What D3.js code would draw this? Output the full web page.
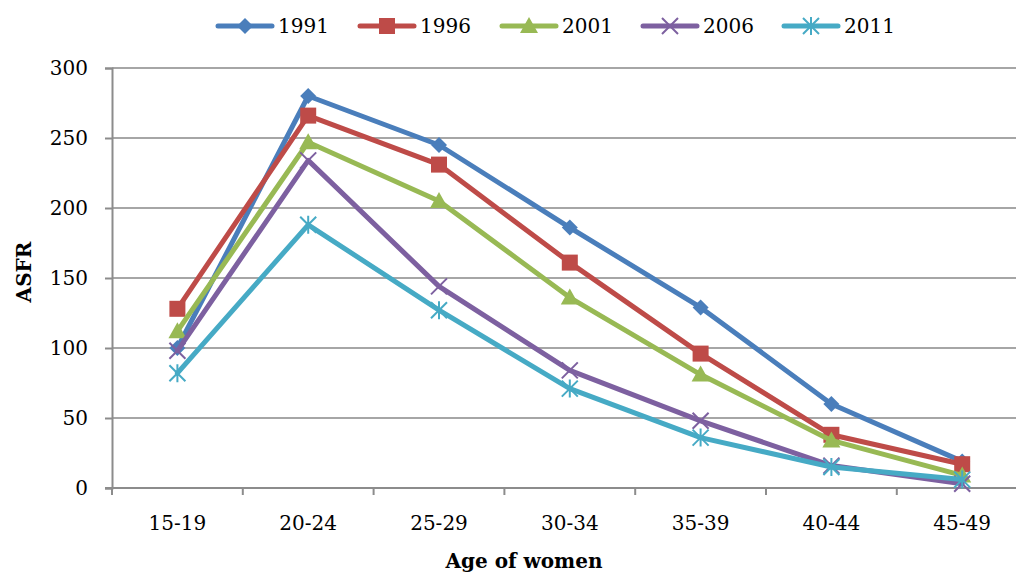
<!DOCTYPE html>
<html><head><meta charset="utf-8">
<script src="https://cdn.jsdelivr.net/npm/d3@7"></script>
<style>body{margin:0;background:#fff}svg{display:block}</style>
</head><body>
<svg id="c" width="1016" height="572"></svg>
<script>
const categories = ["15-19","20-24","25-29","30-34","35-39","40-44","45-49"];
const seriesNames = ["1991","1996","2001","2006","2011"];
const v1991 = [100, 280, 245, 186, 129, 60, 19];
const v1996 = [128, 266, 231, 161, 96, 38, 17];
const v2001 = [112, 247, 205, 136, 81, 34, 9];
const v2006 = [98, 234, 144, 84, 48, 16, 3];
const v2011 = [82, 188, 127, 71, 36, 15, 6];
const yTicks = [0, 50, 100, 150, 200, 250, 300];
const colors = ["#4A7EBB","#BE4B48","#98B954","#7D60A0","#46AAC5"];
const markers = ["diamond","square","triangle","x","star"];
const series = [v1991, v1996, v2001, v2006, v2011];

const svg = d3.select("#c");
const font = "DejaVu Serif";
const x = d3.scaleBand().domain(categories).range([112, 112 + 7*130.8]).paddingInner(0).paddingOuter(0);
const y = d3.scaleLinear().domain([0, 300]).range([488, 68]);
const cx = d => x(d) + x.bandwidth()/2;

// gridlines
svg.append("g").selectAll("line").data(yTicks.filter(t => t > 0)).join("line")
  .attr("x1", 112).attr("x2", 1016).attr("y1", d => y(d)).attr("y2", d => y(d))
  .attr("stroke", "#A6A6A6").attr("stroke-width", 2);

// y axis
const ya = svg.append("g").attr("transform", "translate(112,0)")
  .call(d3.axisLeft(y).tickValues(yTicks).tickSize(7).tickPadding(17));
ya.select(".domain").attr("stroke", "#8C8C8C").attr("stroke-width", 2);
ya.selectAll(".tick line").attr("stroke", "#8C8C8C").attr("stroke-width", 2);
ya.selectAll("text").attr("font-family", font).attr("font-size", 20).attr("fill", "#000");

// x axis
svg.append("line").attr("x1", 105).attr("x2", 1016).attr("y1", 488).attr("y2", 488)
  .attr("stroke", "#8C8C8C").attr("stroke-width", 2);
const bounds = categories.map(c => x(c)).concat([x(categories[6]) + x.bandwidth()]);
svg.append("g").selectAll("line").data(bounds).join("line")
  .attr("x1", d => d).attr("x2", d => d).attr("y1", 488).attr("y2", 495)
  .attr("stroke", "#8C8C8C").attr("stroke-width", 2);
svg.append("g").selectAll("text").data(categories).join("text")
  .attr("x", d => cx(d)).attr("y", 530).attr("text-anchor", "middle")
  .attr("font-family", font).attr("font-size", 20).text(d => d);

// titles
svg.append("text").attr("x", 524).attr("y", 568).attr("text-anchor", "middle")
  .attr("font-family", font).attr("font-size", 20).attr("font-weight", "bold").text("Age of women");
svg.append("text").attr("transform", "translate(31,272) rotate(-90)").attr("text-anchor", "middle")
  .attr("font-family", font).attr("font-size", 20).attr("font-weight", "bold").text("ASFR");

function drawMarker(g, type, px, py, color) {
  if (type === "diamond") {
    g.append("path").attr("d", `M${px},${py-8}L${px+8},${py}L${px},${py+8}L${px-8},${py}Z`).attr("fill", color);
  } else if (type === "square") {
    g.append("rect").attr("x", px-8).attr("y", py-8).attr("width", 16).attr("height", 16).attr("fill", color);
  } else if (type === "triangle") {
    g.append("path").attr("d", `M${px},${py-9}L${px+9},${py+7}L${px-9},${py+7}Z`).attr("fill", color);
  } else if (type === "x") {
    g.append("path").attr("d", `M${px-8},${py-8}L${px+8},${py+8}M${px+8},${py-8}L${px-8},${py+8}`)
      .attr("stroke", color).attr("stroke-width", 2);
  } else if (type === "star") {
    g.append("path").attr("d", `M${px-8},${py-8}L${px+8},${py+8}M${px+8},${py-8}L${px-8},${py+8}M${px},${py-9}L${px},${py+9}`)
      .attr("stroke", color).attr("stroke-width", 2);
  }
}

const line = d3.line().x((d, i) => cx(categories[i])).y(d => y(d));
series.forEach((vals, si) => {
  const g = svg.append("g");
  g.append("path").attr("d", line(vals)).attr("fill", "none")
    .attr("stroke", colors[si]).attr("stroke-width", 5).attr("stroke-linejoin", "round").attr("stroke-linecap", "round");
  vals.forEach((v, i) => drawMarker(g, markers[si], cx(categories[i]), y(v), colors[si]));
});

// legend
const legX = [218, 360, 502, 643, 784];
seriesNames.forEach((n, i) => {
  const g = svg.append("g");
  g.append("line").attr("x1", legX[i]).attr("x2", legX[i] + 54).attr("y1", 26).attr("y2", 26)
    .attr("stroke", colors[i]).attr("stroke-width", 5).attr("stroke-linecap", "round");
  drawMarker(g, markers[i], legX[i] + 27, 26, colors[i]);
  g.append("text").attr("x", legX[i] + 60).attr("y", 33).attr("font-family", font).attr("font-size", 20).text(n);
});
</script>
</body></html>
